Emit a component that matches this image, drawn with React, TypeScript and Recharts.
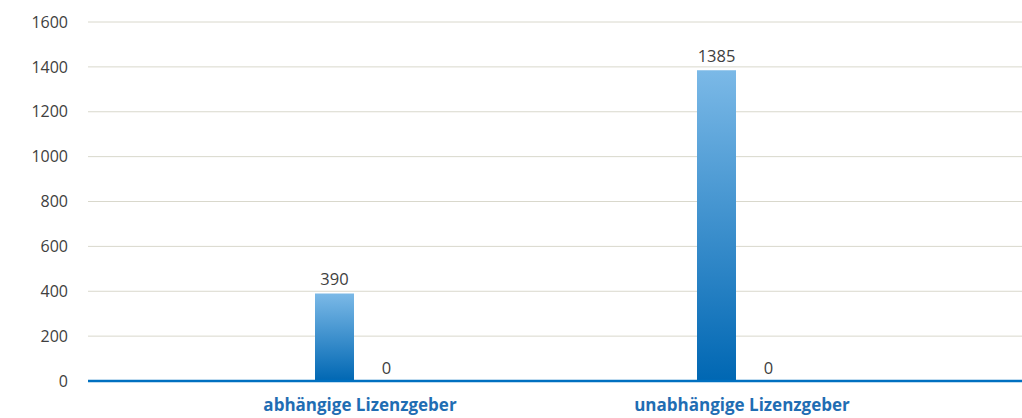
import React from "react";
import { BarChart, Bar, XAxis, YAxis, CartesianGrid, LabelList } from "recharts";

const categories = ["abhängige Lizenzgeber", "unabhängige Lizenzgeber"];
const seriesA = [390, 1385];
const seriesB = [0, 0];
const yTicks = [0, 200, 400, 600, 800, 1000, 1200, 1400, 1600];

const data = categories.map((name, i) => ({ name, a: seriesA[i], b: seriesB[i] }));

export default function App() {
  return (
    <div style={{ position: "absolute", left: 0, top: 0, width: 1022, height: 418, background: "#fff" }}>
      <BarChart
        width={1022}
        height={418}
        data={data}
        margin={{ top: 22, right: 0, bottom: 0, left: 0 }}
        barSize={39}
        barGap={13}
      >
        <defs>
          <linearGradient id="barGrad" x1="0" y1="0" x2="0" y2="1">
            <stop offset="0%" stopColor="#7bb9e7" />
            <stop offset="100%" stopColor="#0067b3" />
          </linearGradient>
        </defs>
        <CartesianGrid vertical={false} stroke="#d9d8cc" strokeWidth={1} />
        <XAxis
          dataKey="name"
          height={37}
          padding={{ left: 81, right: 89 }}
          axisLine={{ stroke: "#0070c0", strokeWidth: 2.5 }}
          tickLine={false}
          tickMargin={12}
          tick={{ fill: "#1f6db3", fontSize: 17, fontWeight: 700, fontFamily: "Open Sans" }}
        />
        <YAxis
          width={88}
          domain={[0, 1600]}
          ticks={yTicks}
          axisLine={false}
          tickLine={false}
          tickMargin={14}
          tick={{ fill: "#404040", fontSize: 16, fontFamily: "Open Sans" }}
        />
        <Bar dataKey="a" fill="url(#barGrad)" isAnimationActive={false}>
          <LabelList dataKey="a" position="top" offset={8} fill="#404040" fontSize={16.5} fontFamily="Open Sans" />
        </Bar>
        <Bar dataKey="b" fill="url(#barGrad)" fillOpacity={0} minPointSize={1} isAnimationActive={false}>
          <LabelList dataKey="b" position="top" offset={6} fill="#404040" fontSize={16.5} fontFamily="Open Sans" />
        </Bar>
      </BarChart>
    </div>
  );
}
